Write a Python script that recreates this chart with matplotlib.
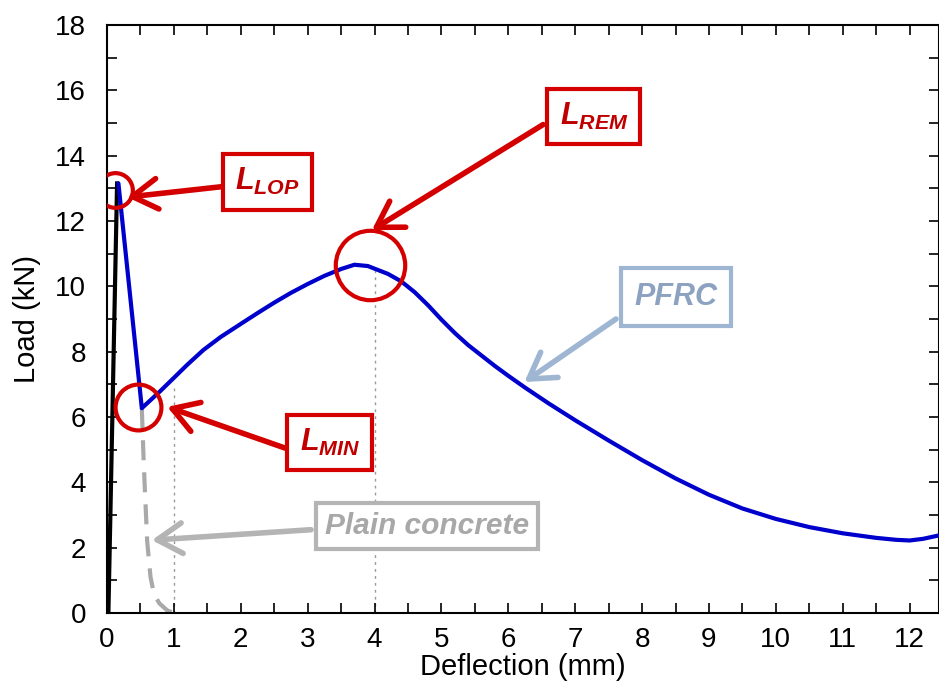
import matplotlib
matplotlib.use("Agg")
import matplotlib.pyplot as plt
from matplotlib.ticker import MultipleLocator

plt.rcParams["font.family"] = ["Liberation Sans", "DejaVu Sans"]
plt.rcParams["mathtext.fontset"] = "custom"
plt.rcParams["mathtext.it"] = "Liberation Sans:italic:bold"
plt.rcParams["mathtext.rm"] = "Liberation Sans:italic:bold"

# ---------------------------------------------------------------------------
# Data (deflection in mm, load in kN)
# ---------------------------------------------------------------------------
elastic_x = [0.02, 0.15]
elastic_y = [0.0, 13.15]

pfrc_x = [0.17, 0.52, 0.8, 1.0, 1.2, 1.44, 1.7, 2.0, 2.25, 2.5, 2.75, 3.0,
          3.25, 3.5, 3.7, 3.9, 4.2, 4.4, 4.6, 4.8, 5.0, 5.2, 5.4, 5.6, 5.8,
          6.0, 6.25, 6.6, 7.0, 7.5, 8.0, 8.5, 9.0, 9.5, 10.0, 10.5, 11.0,
          11.5, 11.8, 12.0, 12.2, 12.45]
pfrc_y = [13.15, 6.27, 6.8, 7.2, 7.6, 8.05, 8.45, 8.85, 9.18, 9.5, 9.8, 10.07,
          10.32, 10.53, 10.66, 10.62, 10.38, 10.15, 9.82, 9.42, 8.98, 8.57, 8.2,
          7.88, 7.56, 7.26, 6.9, 6.42, 5.9, 5.28, 4.68, 4.12, 3.62, 3.2, 2.88,
          2.63, 2.44, 2.3, 2.24, 2.22, 2.27, 2.38]

plain_x = [0.52, 0.55, 0.6, 0.65, 0.7, 0.78, 0.9, 1.0]
plain_y = [6.27, 4.5, 2.2, 1.1, 0.6, 0.3, 0.08, 0.0]

guide_x = [1.0, 4.0]
guide_top = [6.9, 10.62]

# marked points: L_LOP, L_MIN, L_REM
mark_x = [0.12, 0.46, 3.93]
mark_y = [12.95, 6.3, 10.65]
mark_size = [25, 33, 50]

RED = "#d40000"
RED_TXT = "#c00000"
GREY = "#b4b4b4"
GREY_TXT = "#a8a8a8"
PFRC_EDGE = "#9fb6d3"
PFRC_TXT = "#8ca2c0"

fig = plt.figure(figsize=(9.39, 6.87), dpi=100)
ax = fig.add_axes([0.114, 0.1077, 0.886, 0.856])

ax.vlines(guide_x, 0, guide_top, colors="#999999", linestyles=(0, (2, 3)), lw=1, zorder=1)
ax.plot(elastic_x, elastic_y, color="black", lw=3, zorder=3)
ax.plot(pfrc_x, pfrc_y, color="#0000cc", lw=3, zorder=4,
        solid_joinstyle="round", solid_capstyle="round")
ax.plot(plain_x, plain_y, color="#a9a9a9", lw=3, dashes=(4.8, 2.9), zorder=2)

for mx, my, ms in zip(mark_x, mark_y, mark_size):
    ax.plot(mx, my, "o", ms=ms, mfc="none", mec=RED, mew=3, zorder=5)


def label(text, pos, tip, start, edge, tcolor, size=22, pad=0.4):
    ax.text(pos[0], pos[1], text, ha="center", va="center", fontsize=size,
            fontweight="bold", fontstyle="italic", color=tcolor, zorder=6,
            bbox=dict(boxstyle=f"square,pad={pad}", fc="white", ec=edge, lw=3))
    ax.annotate("", xy=tip, xytext=start, zorder=5,
                arrowprops=dict(arrowstyle="->,head_length=0.9,head_width=0.55",
                                color=edge, lw=4, mutation_scale=20,
                                shrinkA=0, shrinkB=0))


label(r"$L_{LOP}$", (2.40, 13.2), (0.30, 12.73), (1.72, 13.05), RED, RED_TXT)
label(r"$L_{REM}$", (7.28, 15.2), (3.96, 11.72), (6.52, 14.95), RED, RED_TXT)
label(r"$L_{MIN}$", (3.33, 5.22), (0.90, 6.31), (2.66, 5.05), RED, RED_TXT)
label("Plain concrete", (4.78, 2.65), (0.67, 2.23), (3.05, 2.55), GREY, GREY_TXT,
      size=21.5, pad=0.3)
label("PFRC", (8.51, 9.67), (6.24, 7.07), (7.61, 9.0), PFRC_EDGE, PFRC_TXT, pad=0.45)

ax.set_xlim(0, 12.44)
ax.set_ylim(0, 18)
ax.xaxis.set_major_locator(MultipleLocator(1))
ax.xaxis.set_minor_locator(MultipleLocator(0.5))
ax.yaxis.set_major_locator(MultipleLocator(2))
ax.yaxis.set_minor_locator(MultipleLocator(1))
ax.tick_params(which="both", direction="in", top=True, right=True, length=7, width=1.2)
ax.tick_params(axis="x", which="major", labelsize=20, pad=10)
ax.tick_params(axis="y", which="major", labelsize=20, pad=15)
for sp in ax.spines.values():
    sp.set_linewidth(1.5)

ax.set_xlabel("Deflection (mm)", fontsize=21, labelpad=0)
ax.set_ylabel("Load (kN)", fontsize=21, labelpad=10)

fig.savefig("out.png", dpi=100)
